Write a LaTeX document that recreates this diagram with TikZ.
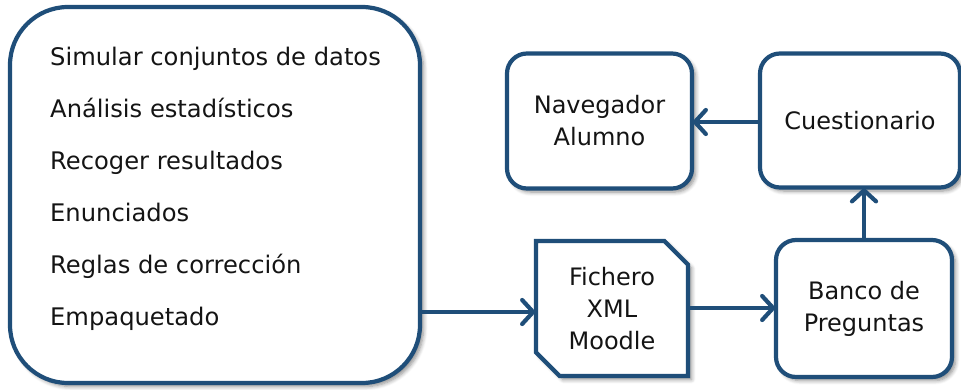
\documentclass[tikz,border=0pt]{standalone}
\usepackage{fontspec}
\setmainfont{DejaVu Sans}
\usetikzlibrary{arrows.meta,shapes.misc,shadows.blur}
\definecolor{boxblue}{RGB}{31,78,121}
\definecolor{ink}{RGB}{20,20,20}
\tikzset{
  flowbox/.style={draw=boxblue, line width=4.2pt, fill=white, rounded corners=20pt,
    align=center, text=ink, inner sep=0pt, outer sep=0pt,
    font=\fontsize{24}{32}\selectfont,
    blur shadow={shadow xshift=3.5pt, shadow yshift=-3.5pt, shadow blur steps=6, shadow opacity=45, shadow blur radius=4pt}},
  filebox/.style={flowbox, rounded corners=0pt, chamfered rectangle,
    chamfered rectangle corners={north east, south west}, chamfered rectangle xsep=20pt},
  itemtext/.style={anchor=base west, text=ink, inner sep=0pt, font=\fontsize{24.2}{28}\selectfont},
  arr/.style={draw=boxblue, line width=4.2pt,
    -{Straight Barb[length=11pt, width=24pt, line width=4.2pt, line cap=round]}}
}
\begin{document}
\begin{tikzpicture}[x=1pt, y=-1pt]
  \useasboundingbox (0,0) rectangle (961,389);

  % tasks container
  \node[flowbox, rounded corners=58pt, minimum width=410pt, minimum height=376pt] (tasks) at (215,195) {};
  \node[itemtext] (t1) at (50,65)  {Simular conjuntos de datos};
  \node[itemtext] (t2) at (50,117) {Análisis estadísticos};
  \node[itemtext] (t3) at (50,169) {Recoger resultados};
  \node[itemtext] (t4) at (50,221) {Enunciados};
  \node[itemtext] (t5) at (50,273) {Reglas de corrección};
  \node[itemtext] (t6) at (50,325) {Empaquetado};

  % flow boxes
  \node[flowbox, minimum width=185pt, minimum height=135pt] (nav) at (599.5,121) {Navegador\\Alumno};
  \node[flowbox, minimum width=200pt, minimum height=134pt] (cue) at (860,120.5) {Cuestionario};
  \node[filebox, minimum width=152pt, minimum height=135pt] (xml) at (612,308.5) {Fichero\\XML\\Moodle};
  \node[flowbox, minimum width=176pt, minimum height=137pt] (bank) at (864,308.5) {Banco de\\Preguntas};

  % connectors
  \draw[arr] (tasks.east |- 0,312) -- (xml.west |- 0,312);
  \draw[arr] (xml.east |- 0,308) -- (bank.west |- 0,308);
  \draw[arr] (bank.north) -- (bank.north |- cue.south);
  \draw[arr] (cue.west |- 0,122) -- (nav.east |- 0,122);
\end{tikzpicture}
\end{document}
